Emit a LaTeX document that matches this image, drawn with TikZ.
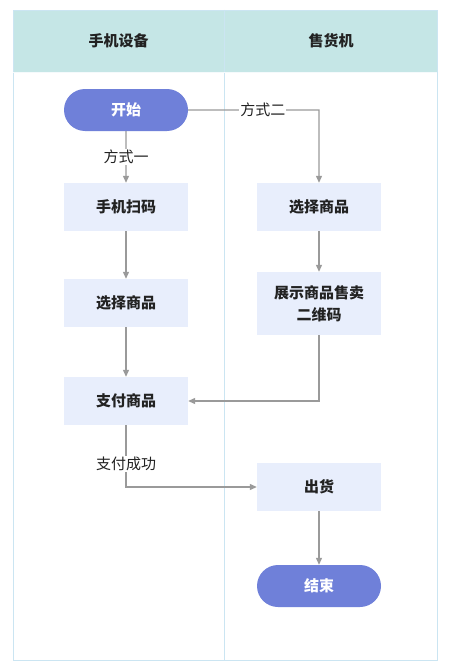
\documentclass[tikz,border=0pt]{standalone}
\usepackage{fontspec}
\setmainfont{Noto Sans CJK SC}
\usetikzlibrary{arrows.meta,shapes.misc}
\definecolor{hdr}{HTML}{C5E6E6}
\definecolor{lane}{HTML}{CBE5F2}
\definecolor{boxf}{HTML}{E8EEFC}
\definecolor{pill}{HTML}{6F80D9}
\definecolor{arr}{HTML}{9A9A9A}
\definecolor{txt}{HTML}{222222}
\tikzset{
  x=1pt,y=-1pt,
  stepbox/.style={fill=boxf,draw=none,minimum width=124pt,minimum height=48pt,inner sep=0pt,align=center,font=\fontsize{15}{22}\selectfont\bfseries,text=txt},
  pillbox/.style={rounded rectangle,fill=pill,draw=none,minimum width=124pt,minimum height=42pt,inner sep=0pt,font=\fontsize{15}{18}\selectfont\bfseries,text=white},
  hdrtext/.style={font=\fontsize{15}{18}\selectfont\bfseries,text=txt},
  lbl/.style={fill=white,inner sep=1pt,font=\fontsize{15}{18}\selectfont,text=txt},
  conn/.style={draw=arr,line width=1.2pt,-{Triangle[length=7pt,width=6pt]}},
}
\begin{document}
\begin{tikzpicture}
\useasboundingbox (0,0) rectangle (449,669);
\fill[white] (0,0) rectangle (449,669);
% lanes
\fill[hdr] (13,10) rectangle (437,72);
\draw[lane,line width=0.8pt] (13,10) rectangle (437,660);
\draw[lane,line width=0.8pt] (224.5,10) -- (224.5,660);
\draw[white!80!lane,line width=0.6pt] (13,72) -- (437,72);
\node[hdrtext] (h1) at (118.5,41) {手机设备};
\node[hdrtext] (h2) at (331,41) {售货机};
% nodes
\node[pillbox] (start) at (126,110) {开始};
\node[stepbox] (scan) at (126,207) {手机扫码};
\node[stepbox] (selL) at (126,303) {选择商品};
\node[stepbox] (pay) at (126,401) {支付商品};
\node[stepbox] (selR) at (319,207) {选择商品};
\node[stepbox,minimum height=63pt] (show) at (319,303.5) {展示商品售卖\\二维码};
\node[stepbox] (ship) at (319,487) {出货};
\node[pillbox] (end) at (319,586) {结束};
\coordinate (c1) at (319,110);
\coordinate (c2) at (319,401);
\coordinate (c3) at (126,487);
% connectors
\draw[conn] (start) -- node[lbl] {方式一} (scan);
\draw[conn] (start) -- node[lbl,pos=0.57] {方式二} (c1) -- (selR);
\draw[conn] (scan) -- (selL);
\draw[conn] (selL) -- (pay);
\draw[conn] (selR) -- (show);
\draw[conn] (show) -- (c2) -- (pay);
\draw[conn] (pay) -- node[lbl,pos=0.63] {支付成功} (c3) -- (ship);
\draw[conn] (ship) -- (end);
\end{tikzpicture}
\end{document}
